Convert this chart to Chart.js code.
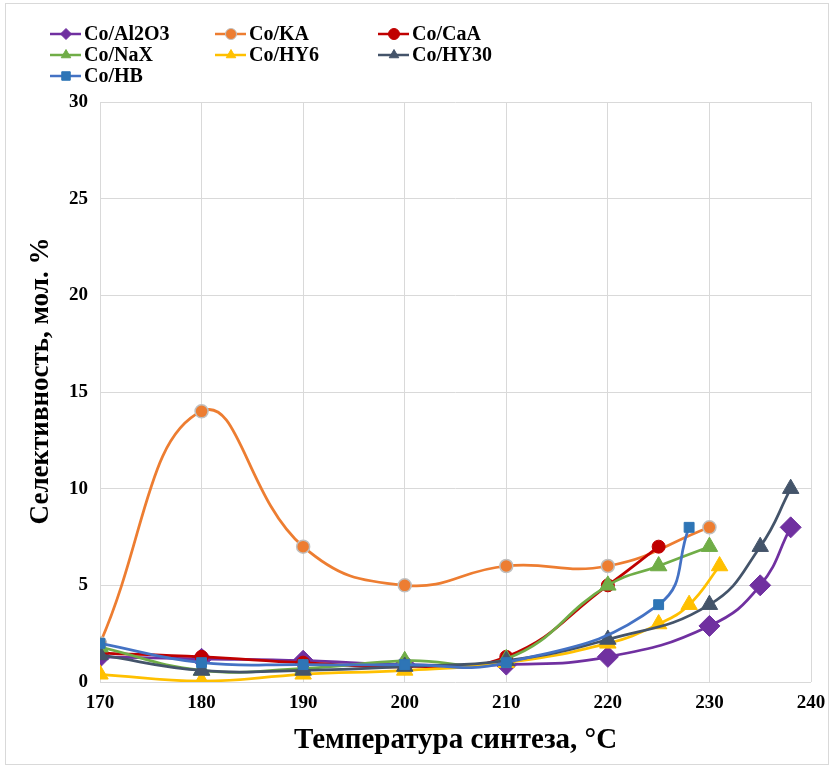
<!DOCTYPE html>
<html>
<head>
<meta charset="utf-8">
<script src="https://cdn.jsdelivr.net/npm/chart.js@4.4.1/dist/chart.umd.min.js"></script>
<style>
  html, body { margin: 0; padding: 0; background: #fff; }
  #wrap { position: absolute; left: 5px; top: 3px; width: 822px; height: 760px; border: 1px solid #d9d9d9; }
</style>
</head>
<body>
<div id="wrap"><canvas id="selChart" width="822" height="760"></canvas></div>
<script>
// данные: температура (°C) и селективность (мол. %)
const seriesNames = ['Co/Al2O3', 'Co/KA', 'Co/CaA', 'Co/NaX', 'Co/HY6', 'Co/HY30', 'Co/HB'];

const tAl2O3 = [170, 180, 190, 200, 210, 220, 230, 235, 238];
const sAl2O3 = [1.3, 1.2, 1.1, 0.9, 0.9, 1.3, 2.9, 5.0, 8.0];

const tKA = [170, 180, 190, 200, 210, 220, 230];
const sKA = [2.0, 14.0, 7.0, 5.0, 6.0, 6.0, 8.0];

const tCaA = [170, 180, 190, 200, 210, 220, 225];
const sCaA = [1.5, 1.3, 1.0, 0.8, 1.3, 5.0, 7.0];

const tNaX = [170, 180, 190, 200, 210, 220, 225, 230];
const sNaX = [1.8, 0.6, 0.7, 1.1, 1.2, 5.0, 6.0, 7.0];

const tHY6 = [170, 180, 190, 200, 210, 220, 225, 228, 231];
const sHY6 = [0.4, 0.05, 0.4, 0.6, 1.0, 2.0, 3.0, 4.0, 6.0];

const tHY30 = [170, 180, 190, 200, 210, 220, 230, 235, 238];
const sHY30 = [1.4, 0.6, 0.6, 0.8, 1.1, 2.2, 4.0, 7.0, 10.0];

const tHB = [170, 180, 190, 200, 210, 225, 228];
const sHB = [2.0, 1.0, 0.9, 0.9, 1.0, 4.0, 8.0];

const xTicks = [170, 180, 190, 200, 210, 220, 230, 240];
const yTicks = [0, 5, 10, 15, 20, 25, 30];

const yTitle = 'Селективность, мол. %';
const xTitle = 'Температура синтеза, °C';

const FONT = '"Liberation Serif", "Times New Roman", serif';

function pts(xs, ys) {
    return xs.map((x, i) => ({ x: x, y: ys[i] }));
}

function series(i, xs, ys, color, style, radius, pointColor, borderCol) {
    return {
        label: seriesNames[i],
        data: pts(xs, ys),
        borderColor: color,
        backgroundColor: pointColor || color,
        pointBackgroundColor: pointColor || color,
        pointBorderColor: borderCol || pointColor || color,
        pointBorderWidth: borderCol ? 1.5 : 1,
        pointStyle: style,
        pointRadius: radius,
        legendRadius: style === 'rect' ? 6 : 5.5,
        borderWidth: 2.75,
        tension: 0.45,
        fill: false,
        order: 10 - i
    };
}

const datasets = [
    series(0, tAl2O3, sAl2O3, '#7030a0', 'rectRot', 10.5),
    series(1, tKA, sKA, '#ed7d31', 'circle', 6.5, '#ed7d31', '#bfbfbf'),
    series(2, tCaA, sCaA, '#c00000', 'circle', 6.5),
    series(3, tNaX, sNaX, '#70ad47', 'triangle', 9.5),
    series(4, tHY6, sHY6, '#ffc000', 'triangle', 9.5),
    series(5, tHY30, sHY30, '#44546a', 'triangle', 9.5),
    series(6, tHB, sHB, '#4472c4', 'rect', 7, '#2e75b6')
];

// легенда в три колонки и подпись оси Y, как в оригинале
const legendPlugin = {
    id: 'gridLegend',
    afterDraw(chart) {
        const ctx = chart.ctx;
        const cols = [44, 209, 372];
        const rows = [30, 51, 72];
        ctx.save();
        chart.data.datasets.forEach((ds, i) => {
            const x = cols[i % 3];
            const y = rows[Math.floor(i / 3)];
            ctx.strokeStyle = ds.borderColor;
            ctx.lineWidth = 2.5;
            ctx.beginPath();
            ctx.moveTo(x, y);
            ctx.lineTo(x + 31, y);
            ctx.stroke();
            ctx.fillStyle = ds.pointBackgroundColor;
            ctx.strokeStyle = ds.pointBorderColor;
            ctx.lineWidth = 1;
            Chart.helpers.drawPoint(ctx, {
                pointStyle: ds.pointStyle,
                radius: ds.legendRadius,
                borderWidth: 1
            }, x + 16, y);
            ctx.fillStyle = '#000';
            ctx.font = 'bold 20px ' + FONT;
            ctx.textBaseline = 'middle';
            ctx.textAlign = 'left';
            ctx.fillText(ds.label, x + 34, y + 1);
        });

        ctx.translate(35, 377);
        ctx.rotate(-Math.PI / 2);
        ctx.font = 'bold 27px ' + FONT;
        ctx.textAlign = 'center';
        ctx.textBaseline = 'middle';
        ctx.fillText(yTitle, 0, 0);
        ctx.restore();
    }
};

new Chart(document.getElementById('selChart').getContext('2d'), {
    type: 'line',
    data: { datasets: datasets },
    plugins: [legendPlugin],
    options: {
        responsive: false,
        animation: false,
        layout: { padding: { top: 98, right: 0, bottom: 0, left: 0 } },
        plugins: {
            legend: { display: false },
            tooltip: { enabled: false }
        },
        scales: {
            x: {
                type: 'linear',
                min: 170,
                max: 240,
                afterBuildTicks: s => { s.ticks = xTicks.map(v => ({ value: v })); },
                afterFit: s => { s.height = 82; s.paddingRight = 17; s.paddingLeft = 0; },
                grid: { color: '#d9d9d9', lineWidth: 1, drawTicks: false },
                border: { display: false },
                ticks: {
                    color: '#000',
                    padding: 10,
                    font: { family: FONT, size: 19, weight: 'bold' }
                },
                title: {
                    display: true,
                    text: xTitle,
                    color: '#000',
                    padding: { top: 0, bottom: 6 },
                    font: { family: FONT, size: 29, weight: 'bold' }
                }
            },
            y: {
                min: 0,
                max: 30,
                afterBuildTicks: s => { s.ticks = yTicks.map(v => ({ value: v })); },
                afterFit: s => { s.width = 94; },
                grid: { color: '#d9d9d9', lineWidth: 1, drawTicks: false },
                border: { display: false },
                ticks: {
                    color: '#000',
                    padding: 12,
                    font: { family: FONT, size: 19, weight: 'bold' }
                }
            }
        }
    }
});
</script>
</body>
</html>
